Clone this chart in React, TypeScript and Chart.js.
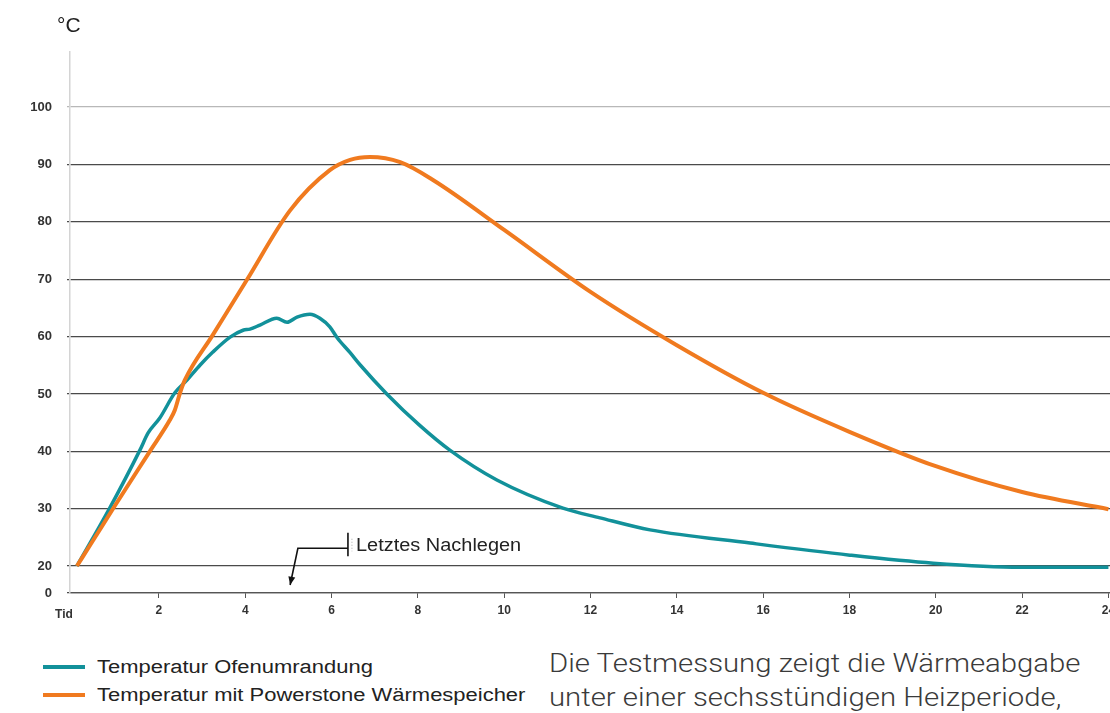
import React, { useEffect, useRef } from 'react';
import { Chart, registerables } from 'chart.js';

Chart.register(...registerables);

// ---- data (hours, °C) ----
const ofenHours = [0.1, 0.86, 1.56, 1.75, 2.02, 2.37, 2.65, 2.95, 3.25, 3.65, 3.95, 4.11, 4.34, 4.73, 4.97, 5.2, 5.5, 5.73, 5.96, 6.13, 6.43, 6.67, 7.28, 8.03, 8.74, 9.83, 11.36, 12.22, 13.38, 15.7, 18.01, 19.94, 21.96, 24.0];
const ofenTemps = [20.0, 30.1, 40.2, 43.2, 45.8, 50.2, 52.4, 55.0, 57.3, 59.9, 61.1, 61.3, 62.0, 63.2, 62.5, 63.4, 63.9, 63.2, 61.7, 59.8, 57.2, 55.0, 50.0, 44.6, 40.2, 35.0, 30.1, 28.4, 26.3, 24.0, 21.9, 20.5, 19.8, 19.8];

const stoneHours = [0.1, 0.47, 0.98, 1.79, 2.25, 2.37, 2.49, 2.6, 3.25, 4.04, 5.04, 5.96, 6.43, 6.89, 7.59, 8.35, 10.0, 12.0, 14.0, 16.0, 18.0, 20.0, 22.0, 24.0];
const stoneTemps = [20.0, 24.4, 30.5, 40.0, 45.4, 47.2, 50.2, 52.4, 60.3, 69.9, 82.0, 89.0, 90.8, 91.3, 90.4, 87.3, 78.6, 67.8, 58.5, 50.2, 43.4, 37.4, 32.9, 29.9];

const seriesNames = ['Temperatur Ofenumrandung', 'Temperatur mit Powerstone Wärmespeicher'];
const xTickValues = [2, 4, 6, 8, 10, 12, 14, 16, 18, 20, 22, 24];
const yTickValues = [20, 30, 40, 50, 60, 70, 80, 90, 100];
const yBaseLabel = '0';
const xAxisTitle = 'Tid';
const unitLabel = '°C';
const noteText = 'Letztes Nachlegen';
const noteBar = [6.38, 25.8, 21.7]; // time, top, bottom
const noteElbow = [5.22, 23.1];
const noteTip = [5.04, 16.7];
const captionLines = ['Die Testmessung zeigt die Wärmeabgabe', 'unter einer sechsstündigen Heizperiode,'];

const TEAL = '#12919a';
const ORANGE = '#f07a1f';
const X_MIN = -0.06;
const X_MAX = 24.5;
const Y_MIN = 15.3;
const Y_MAX = 109.6;

const overlayPlugin = {
  id: 'overlay',
  afterDraw(chart: any) {
    const { ctx, scales } = chart;
    const x = scales.x;
    const y = scales.y;
    ctx.save();
    ctx.fillStyle = '#222';
    ctx.textBaseline = 'middle';
    ctx.textAlign = 'left';
    ctx.font = '21px "Liberation Sans", Arial, sans-serif';
    ctx.fillText(unitLabel, 57, 26);

    ctx.font = 'bold 12px "Liberation Sans", Arial, sans-serif';
    ctx.fillStyle = '#333';
    ctx.textAlign = 'center';
    ctx.fillText(xAxisTitle, x.left - 6, 615);

    // annotation
    const bx = x.getPixelForValue(noteBar[0]);
    const by1 = y.getPixelForValue(noteBar[1]);
    const by2 = y.getPixelForValue(noteBar[2]);
    const ex = x.getPixelForValue(noteElbow[0]);
    const ey = y.getPixelForValue(noteElbow[1]);
    const tx = x.getPixelForValue(noteTip[0]);
    const ty = y.getPixelForValue(noteTip[1]);
    ctx.strokeStyle = '#111';
    ctx.lineWidth = 1.6;
    ctx.beginPath();
    ctx.moveTo(bx, by1);
    ctx.lineTo(bx, by2);
    ctx.moveTo(bx, ey);
    ctx.lineTo(ex, ey);
    ctx.lineTo(tx, ty);
    ctx.stroke();
    const ang = Math.atan2(ty - ey, tx - ex);
    const L = 9;
    ctx.fillStyle = '#111';
    ctx.beginPath();
    ctx.moveTo(tx, ty);
    ctx.lineTo(tx - L * Math.cos(ang - 0.4), ty - L * Math.sin(ang - 0.4));
    ctx.lineTo(tx - L * Math.cos(ang + 0.4), ty - L * Math.sin(ang + 0.4));
    ctx.closePath();
    ctx.fill();

    ctx.strokeStyle = '#aaa';
    ctx.lineWidth = 1;
    ctx.setLineDash([1, 2]);
    ctx.beginPath();
    ctx.moveTo(bx + 4, by1 + 6);
    ctx.lineTo(bx + 4, by2 - 5);
    ctx.stroke();
    ctx.setLineDash([]);

    ctx.fillStyle = '#222';
    ctx.textAlign = 'left';
    ctx.font = '17.5px "Liberation Sans", Arial, sans-serif';
    ctx.translate(bx + 8, ey - 2);
    ctx.scale(1.14, 1);
    ctx.fillText(noteText, 0, 0);
    ctx.restore();
  },
};

export default function App() {
  const ref = useRef<HTMLCanvasElement | null>(null);

  useEffect(() => {
    if (!ref.current) return;
    const chart = new Chart(ref.current, {
      type: 'line',
      data: {
        datasets: [
          {
            label: seriesNames[1],
            data: stoneHours.map((h, i) => ({ x: h, y: stoneTemps[i] })),
            borderColor: ORANGE,
            borderWidth: 4,
            pointRadius: 0,
            cubicInterpolationMode: 'monotone',
            order: 0,
          },
          {
            label: seriesNames[0],
            data: ofenHours.map((h, i) => ({ x: h, y: ofenTemps[i] })),
            borderColor: TEAL,
            borderWidth: 3.5,
            pointRadius: 0,
            cubicInterpolationMode: 'monotone',
            order: 1,
          },
        ],
      },
      options: {
        animation: false,
        responsive: false,
        devicePixelRatio: 1,
        layout: { padding: { top: 52, left: 0, right: 10, bottom: 0 } },
        plugins: { legend: { display: false }, tooltip: { enabled: false } },
        scales: {
          x: {
            type: 'linear',
            min: X_MIN,
            max: X_MAX,
            afterBuildTicks: (s: any) => {
              s.ticks = xTickValues.map((v) => ({ value: v }));
            },
            afterFit: (s: any) => {
              s.height = 47;
            },
            grid: { drawOnChartArea: false, drawTicks: true, tickLength: 5, color: '#555', lineWidth: 1 },
            border: { display: true, color: '#555', width: 1.3 },
            ticks: {
              autoSkip: false,
              maxRotation: 0,
              padding: 5,
              color: '#333',
              font: { family: '"Liberation Sans", Arial, sans-serif', size: 12, weight: 'bold' },
              callback: (v: any) => String(v),
            },
          },
          y: {
            type: 'linear',
            min: Y_MIN,
            max: Y_MAX,
            afterBuildTicks: (s: any) => {
              s.ticks = [{ value: Y_MIN }, ...yTickValues.map((v) => ({ value: v }))];
            },
            afterFit: (s: any) => {
              s.width = 70;
            },
            grid: {
              drawTicks: true,
              tickLength: 3,
              color: (c: any) => (c.tick && c.tick.value === 100 ? '#b8b8b8' : '#4a4a4a'),
              lineWidth: 1.2,
            },
            border: { display: true, color: '#d4d4d4', width: 1.5 },
            ticks: {
              autoSkip: false,
              padding: 15,
              color: '#333',
              font: { family: '"Liberation Sans", Arial, sans-serif', size: 13, weight: 'bold' },
              callback: (v: any) => (v < 20 ? yBaseLabel : String(v)),
            },
          },
        },
      },
      plugins: [overlayPlugin],
    } as any);
    return () => chart.destroy();
  }, []);

  const legendRow = (color: string, text: string, top: number) => (
    <div style={{ position: 'absolute', left: 43, top, height: 28, display: 'flex', alignItems: 'center' }}>
      <div style={{ width: 42, height: 4, background: color, marginRight: 12 }} />
      <span
        style={{
          font: '18px "Liberation Sans", Arial, sans-serif',
          color: '#222',
          whiteSpace: 'nowrap',
          display: 'inline-block',
          transform: 'scaleX(1.22)',
          transformOrigin: 'left center',
        }}
      >
        {text}
      </span>
    </div>
  );

  return (
    <div style={{ position: 'fixed', left: 0, top: 0, width: 1110, height: 713, overflow: 'hidden', background: '#fff' }}>
      <canvas ref={ref} width={1140} height={640} style={{ position: 'absolute', left: 0, top: 0, width: 1140, height: 640 }} />
      {legendRow(TEAL, seriesNames[0], 653)}
      {legendRow(ORANGE, seriesNames[1], 681)}
      <div
        style={{
          position: 'absolute',
          left: 549,
          top: 646,
          font: '300 25.5px Roboto, "Open Sans", sans-serif',
          lineHeight: '34px',
          color: '#3a3a3a',
          whiteSpace: 'pre',
          transform: 'scaleX(1.15)',
          transformOrigin: 'left top',
        }}
      >
        {captionLines.join('\n')}
      </div>
    </div>
  );
}
